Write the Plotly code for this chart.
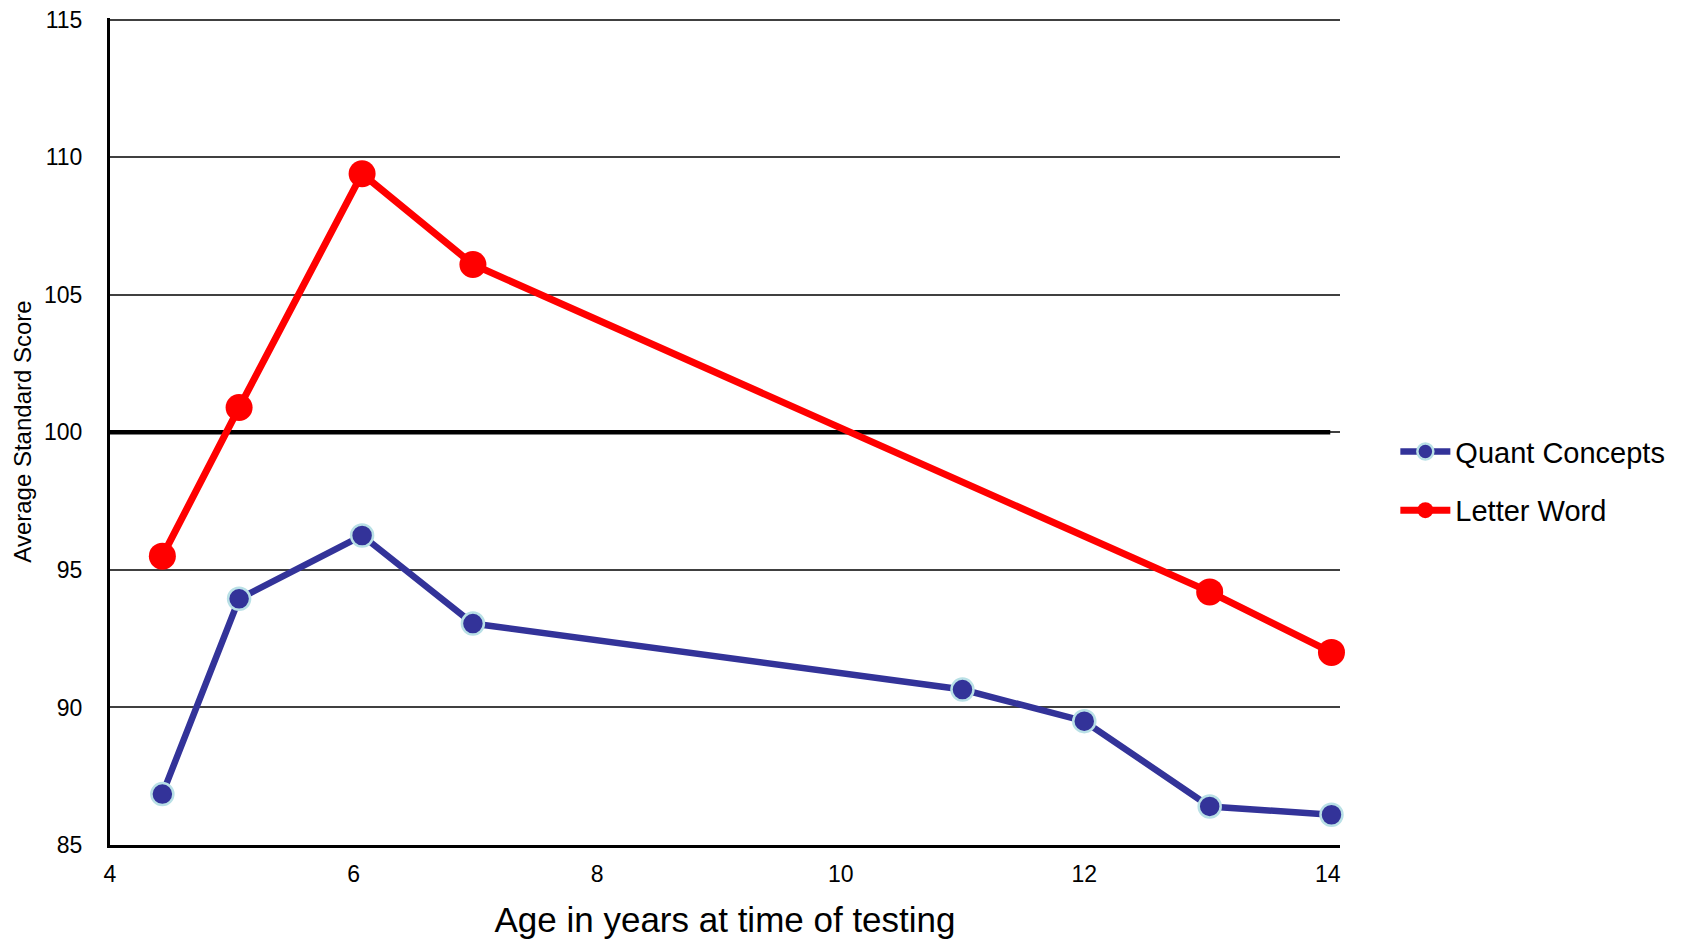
import plotly.graph_objects as go

ages_quant = [4.43, 5.06, 6.07, 6.98, 11.0, 12.0, 13.03, 14.03]
quant_scores = [86.85, 93.95, 96.25, 93.05, 90.65, 89.5, 86.4, 86.1]

ages_letter = [4.43, 5.06, 6.07, 6.98, 13.03, 14.03]
letter_scores = [95.5, 100.9, 109.4, 106.1, 94.2, 92.0]

x_ticks = [4, 6, 8, 10, 12, 14]
y_ticks = [85, 90, 95, 100, 105, 110, 115]
reference_score = [100, 100]
reference_span = [4, 14.02]

FONT = "Liberation Sans"

fig = go.Figure()

fig.add_trace(go.Scatter(
    x=reference_span, y=reference_score, mode="lines", showlegend=False,
    hoverinfo="skip", line=dict(color="black", width=4.5),
))
fig.add_trace(go.Scatter(
    x=ages_quant, y=quant_scores, mode="lines+markers", name="Quant Concepts",
    legendgroup="quant",
    line=dict(color="#333399", width=6.5), cliponaxis=False,
    marker=dict(color="#333399", size=22, line=dict(color="#b9e0e6", width=2.5)),
))
fig.add_trace(go.Scatter(
    x=ages_letter, y=letter_scores, mode="lines+markers", name="Letter Word",
    legendgroup="letter",
    line=dict(color="#ff0000", width=7), cliponaxis=False,
    marker=dict(color="#ff0000", size=27),
))

fig.update_layout(
    width=1695, height=940,
    margin=dict(l=110, r=355, t=18, b=95),
    paper_bgcolor="white", plot_bgcolor="white",
    font=dict(family=FONT, color="black"),
    showlegend=True,
    legend=dict(x=1.045, y=0.44, xanchor="left", yanchor="middle",
                font=dict(size=29, family=FONT), tracegroupgap=18,
                itemwidth=50),
    xaxis=dict(range=[4, 14.1], tickvals=x_ticks, showgrid=False,
               showline=True, linecolor="black", linewidth=3,
               ticks="", tickfont=dict(size=23), ticklabelstandoff=6,
               title=dict(text="Age in years at time of testing",
                          font=dict(size=35), standoff=22),
               zeroline=False, automargin=False),
    yaxis=dict(range=[85, 115.06], tickvals=y_ticks, showgrid=True,
               gridcolor="#404040", gridwidth=2,
               showline=True, linecolor="black", linewidth=3,
               ticks="", tickfont=dict(size=23), ticklabelstandoff=20,
               title=dict(text="Average Standard Score", font=dict(size=24), standoff=6),
               zeroline=False, automargin=False),
)

fig.write_html("out.html")
